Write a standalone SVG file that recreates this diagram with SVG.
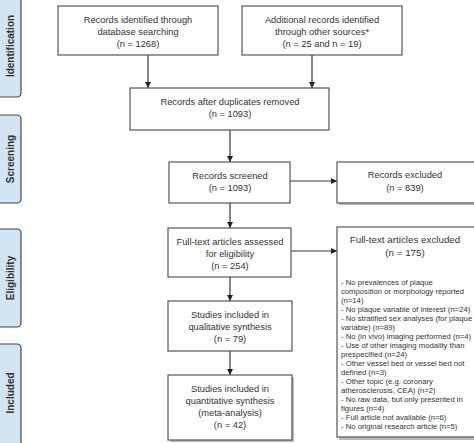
<svg xmlns="http://www.w3.org/2000/svg" width="474" height="443" viewBox="0 0 474 443">
<defs>
<marker id="ah" viewBox="0 0 8 8" refX="8" refY="4" markerWidth="6" markerHeight="6" markerUnits="userSpaceOnUse" orient="auto">
<path d="M0,0 L8,4 L0,8 z" fill="#222"/>
</marker>
</defs>
<style>
.box{fill:#fff;stroke:#555;stroke-width:1.2}
.shadow{fill:#bbb}
.tab{fill:#d3e4f4;stroke:#444;stroke-width:1.2}
.t{font-family:"Liberation Sans",Arial,sans-serif;font-size:9.3px;fill:#333;text-anchor:middle}
.s{font-family:"Liberation Sans",Arial,sans-serif;font-size:7.7px;fill:#333}
.tt{font-family:"Liberation Sans",Arial,sans-serif;font-size:10px;font-weight:bold;fill:#333;text-anchor:middle}
.c{stroke:#333;stroke-width:1.2;fill:none;marker-end:url(#ah)}
</style>
<rect width="474" height="443" fill="#fff"/>
<g id="tab-identification"><rect class="tab" x="-6" y="-6" width="27" height="103" rx="4"/><text class="tt" transform="translate(14,46) rotate(-90)">Identification</text></g>
<g id="tab-screening"><rect class="tab" x="-6" y="115" width="27" height="88" rx="4"/><text class="tt" transform="translate(14,159) rotate(-90)">Screening</text></g>
<g id="tab-eligibility"><rect class="tab" x="-6" y="229" width="27" height="98" rx="4"/><text class="tt" transform="translate(14,278) rotate(-90)">Eligibility</text></g>
<g id="tab-included"><rect class="tab" x="-6" y="344" width="27" height="105" rx="4"/><text class="tt" transform="translate(14,393) rotate(-90)">Included</text></g>

<g id="connectors">
<line class="c" x1="148" y1="55" x2="148" y2="88"/>
<line class="c" x1="312" y1="55" x2="312" y2="88"/>
<line class="c" x1="230" y1="130" x2="230" y2="162"/>
<line class="c" x1="230" y1="203" x2="230" y2="228"/>
<line class="c" x1="230" y1="277" x2="230" y2="301"/>
<line class="c" x1="230" y1="351" x2="230" y2="375"/>
<line class="c" x1="290" y1="181" x2="337" y2="181"/>
<line class="c" x1="291" y1="251" x2="337" y2="251"/>
</g>

<g id="n1"><rect class="box" x="58" y="6" width="160" height="49"/>
<text class="t" x="138" y="23">Records identified through</text>
<text class="t" x="138" y="35">database searching</text>
<text class="t" x="138" y="47">(n = 1268)</text></g>

<g id="n2"><rect class="box" x="242" y="6" width="160" height="49"/>
<text class="t" x="322" y="23">Additional records identified</text>
<text class="t" x="322" y="35">through other sources*</text>
<text class="t" x="322" y="47">(n = 25 and n = 19)</text></g>

<g id="n3"><rect class="box" x="130" y="88" width="199" height="42"/>
<text class="t" x="230" y="105">Records after duplicates removed</text>
<text class="t" x="230" y="117">(n = 1093)</text></g>

<g id="n4"><rect class="box" x="169" y="162" width="121" height="41"/>
<text class="t" x="230" y="179">Records screened</text>
<text class="t" x="230" y="191">(n = 1093)</text></g>

<g id="n5"><rect class="shadow" x="339" y="164" width="150" height="41"/><rect class="box" x="337" y="162" width="150" height="41"/>
<text class="t" x="405" y="178">Records excluded</text>
<text class="t" x="405" y="191">(n = 839)</text></g>

<g id="n6"><rect class="box" x="168" y="228" width="123" height="49"/>
<text class="t" x="230" y="245">Full-text articles assessed</text>
<text class="t" x="230" y="257">for eligibility</text>
<text class="t" x="230" y="269">(n = 254)</text></g>

<g id="n7"><rect class="shadow" x="339" y="229" width="150" height="211"/><rect class="box" x="337" y="227" width="150" height="210"/>
<text class="t" x="405" y="243" style="font-size:9.8px">Full-text articles excluded</text>
<text class="t" x="405" y="256" style="font-size:9.8px">(n = 175)</text>
<text class="s" x="341" y="285">- No prevalences of plaque</text>
<text class="s" x="341" y="294">composition or morphology reported</text>
<text class="s" x="341" y="303">(n=14)</text>
<text class="s" x="341" y="312">- No plaque variable of interest (n=24)</text>
<text class="s" x="341" y="321">- No stratified sex analyses (for plaque</text>
<text class="s" x="341" y="330">variable) (n=89)</text>
<text class="s" x="341" y="339">- No (in vivo) imaging performed (n=4)</text>
<text class="s" x="341" y="348">- Use of other imaging modality than</text>
<text class="s" x="341" y="357">prespecified (n=24)</text>
<text class="s" x="341" y="366">- Other vessel bed or vessel bed not</text>
<text class="s" x="341" y="375">defined (n=3)</text>
<text class="s" x="341" y="384">- Other topic (e.g. coronary</text>
<text class="s" x="341" y="393">atherosclerosis, CEA) (n=2)</text>
<text class="s" x="341" y="402">- No raw data, but only presented in</text>
<text class="s" x="341" y="411">figures (n=4)</text>
<text class="s" x="341" y="420">- Full article not available (n=6)</text>
<text class="s" x="341" y="429">- No original research article (n=5)</text></g>

<g id="n8"><rect class="box" x="168" y="301" width="124" height="50"/>
<text class="t" x="230" y="318">Studies included in</text>
<text class="t" x="230" y="330">qualitative synthesis</text>
<text class="t" x="230" y="342">(n = 79)</text></g>

<g id="n9"><rect class="shadow" x="170" y="377" width="124" height="65"/><rect class="box" x="168" y="375" width="124" height="65"/>
<text class="t" x="230" y="392">Studies included in</text>
<text class="t" x="230" y="404">quantitative synthesis</text>
<text class="t" x="230" y="416">(meta-analysis)</text>
<text class="t" x="230" y="428">(n =  42)</text></g>
</svg>
